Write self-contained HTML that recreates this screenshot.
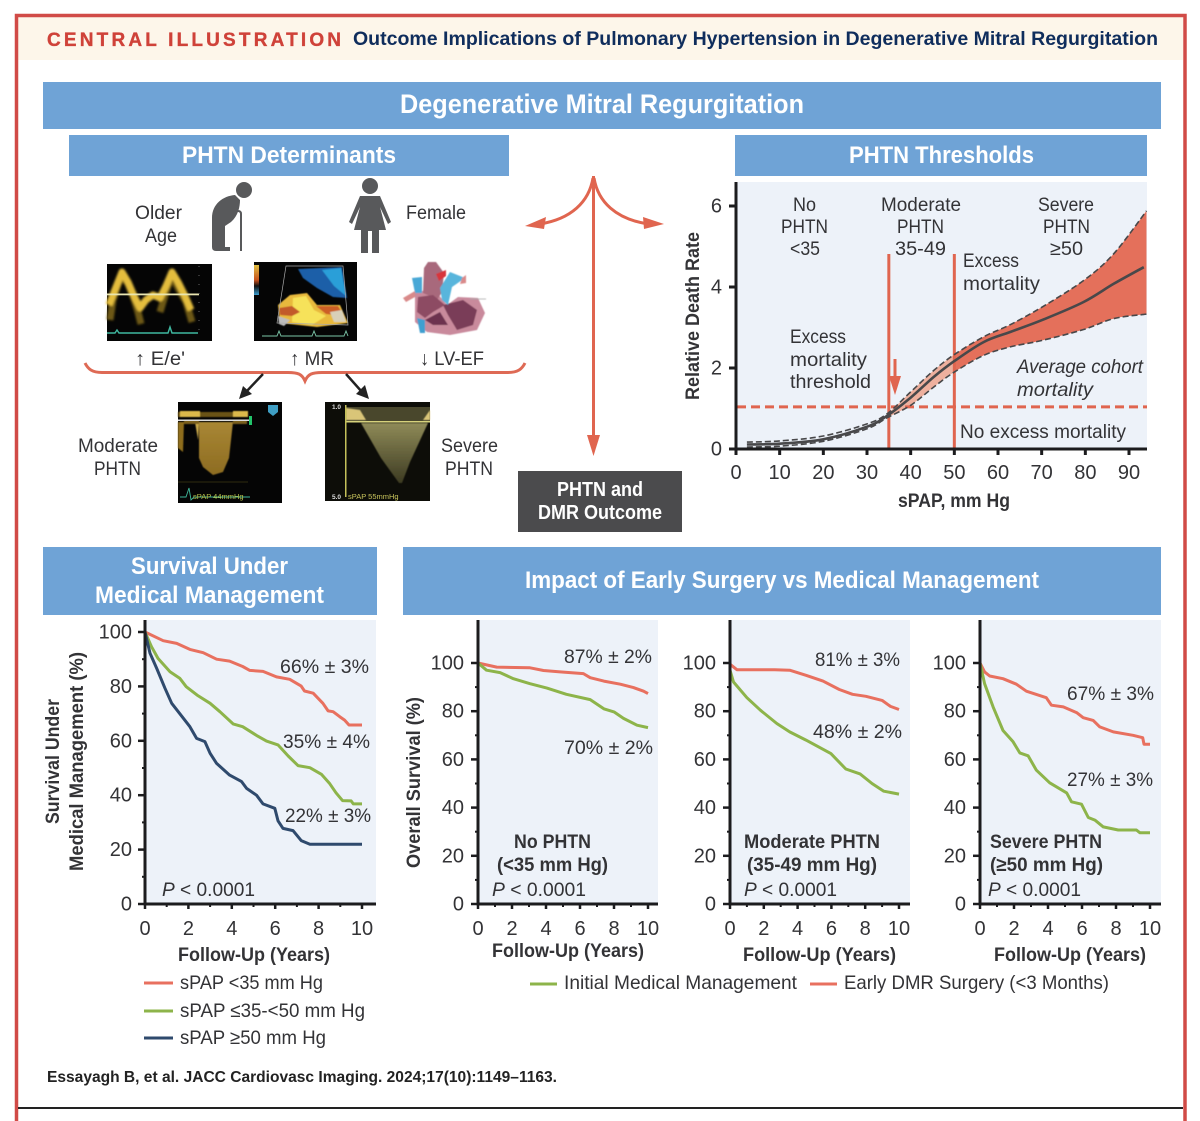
<!DOCTYPE html>
<html lang="en">
<head>
<meta charset="utf-8">
<title>Central Illustration</title>
<style>
html,body{margin:0;padding:0;background:#fff}
svg{display:block}
text{font-family:"Liberation Sans","DejaVu Sans",sans-serif;fill:#333336;font-size:19.5px}
.b{font-weight:700}
.w{fill:#fff;font-weight:700}
.i{font-style:italic}
</style>
</head>
<body>
<svg id="root" xmlns="http://www.w3.org/2000/svg" width="1200" height="1121" viewBox="0 0 1200 1121">
<defs>
<filter id="soft" x="-20%" y="-20%" width="140%" height="140%"><feGaussianBlur stdDeviation="1"/></filter>
<filter id="softer" x="-20%" y="-20%" width="140%" height="140%"><feGaussianBlur stdDeviation="0.6"/></filter>
<linearGradient id="severe-fade" x1="0" y1="0" x2="0" y2="1"><stop offset="0" stop-color="#8f8b58"/><stop offset="1" stop-color="#3d3b22"/></linearGradient>
<linearGradient id="moderate-fade" x1="0" y1="0" x2="0" y2="1"><stop offset="0" stop-color="#a98734"/><stop offset="1" stop-color="#8d6c22"/></linearGradient>
<linearGradient id="colorbar-fade" x1="0" y1="0" x2="0" y2="1"><stop offset="0" stop-color="#e0c040"/><stop offset=".5" stop-color="#c8521e"/><stop offset=".7" stop-color="#111"/><stop offset="1" stop-color="#3a9ed0"/></linearGradient>
</defs>
<rect x="0" y="0" width="1200" height="1121" fill="#fff"/>
<rect x="18" y="16" width="1165" height="44" fill="#fdf6ea"/>
<path d="M16.5 1121V15.5H1185V1121" fill="none" stroke="#d14b47" stroke-width="3.5"/>
<rect x="18" y="1107" width="1165" height="2" fill="#222"/>
<text x="47" y="46" textLength="294" lengthAdjust="spacing" class="b" style="fill:#cf4239;font-size:19px;stroke:#cf4239;stroke-width:.35">CENTRAL ILLUSTRATION</text>
<text x="353" y="45" textLength="805" lengthAdjust="spacingAndGlyphs" class="b" style="fill:#0f2d5c;font-size:19.5px">Outcome Implications of Pulmonary Hypertension in Degenerative Mitral Regurgitation</text>

<rect x="43" y="82" width="1118" height="47" fill="#6fa3d6"/>
<text x="400" y="113" textLength="404" lengthAdjust="spacingAndGlyphs" class="w" style="font-size:27px">Degenerative Mitral Regurgitation</text>
<rect x="69" y="135" width="440" height="41" fill="#6fa3d6"/>
<text x="182" y="163" textLength="214" lengthAdjust="spacingAndGlyphs" class="w" style="font-size:24px">PHTN Determinants</text>
<rect x="735" y="135" width="412" height="41" fill="#6fa3d6"/>
<text x="849" y="163" textLength="185" lengthAdjust="spacingAndGlyphs" class="w" style="font-size:24px">PHTN Thresholds</text>
<rect x="43" y="547" width="334" height="68" fill="#6fa3d6"/>
<text x="131" y="574" textLength="157" lengthAdjust="spacingAndGlyphs" class="w" style="font-size:24px">Survival Under</text>
<text x="95" y="603" textLength="229" lengthAdjust="spacingAndGlyphs" class="w" style="font-size:24px">Medical Management</text>
<rect x="403" y="547" width="758" height="68" fill="#6fa3d6"/>
<text x="525" y="588" textLength="514" lengthAdjust="spacingAndGlyphs" class="w" style="font-size:24px">Impact of Early Surgery vs Medical Management</text>

<!-- Determinants -->
<text x="135" y="219" textLength="47" lengthAdjust="spacingAndGlyphs">Older</text>
<text x="145" y="242" textLength="32" lengthAdjust="spacingAndGlyphs">Age</text>
<text x="406" y="219" textLength="60" lengthAdjust="spacingAndGlyphs">Female</text>
<g fill="#58595b">
<circle cx="244" cy="190" r="8"/>
<path d="M235 195C223 196 212 204 212 218V247Q212 251 216 251H230V247H225V226L231 222C238 216 240 207 240 200Z"/>
<path d="M234 214Q234 211 238 211Q241 211 241 214V251" fill="none" stroke="#58595b" stroke-width="2"/>
</g>
<g fill="#58595b">
<circle cx="370" cy="186" r="8"/>
<path d="M360 196H380L391 222L388 224L380 207L386 230H379V253H372V231H368V253H361V230H354L360 207L352 224L349 222Z"/>
</g>

<g>
<rect x="107" y="264" width="105" height="77" fill="#050505"/>
<g filter="url(#soft)" fill="none" stroke-linejoin="round">
<path d="M110 320L113 300L118 285L122 275L128 284L133 296L138 312L141 324" stroke="#6d5817" stroke-width="7"/>
<path d="M160 312L166 292L172 276L178 288L186 302L192 322" stroke="#6d5817" stroke-width="7"/>
<path d="M109 305L114 292L122 272L128 282L134 296L140 308L146 300L153 295L160 298L166 286L172 272L178 282L185 296L191 310" stroke="#e4bd3c" stroke-width="7"/>
</g>
<rect x="107" y="293.500" width="92" height="1.800" fill="#e9e5b0"/>
<path d="M107 333H115L117 330L119 333H168L170 327L172 333H198" fill="none" stroke="#3fb8a0" stroke-width="1.4"/>
<path d="M199 266V338" stroke="#666" stroke-width="1" stroke-dasharray="1 8"/>
</g>
<g>
<rect x="254" y="262" width="103" height="79" fill="#050505"/>
<rect x="254" y="265" width="5" height="30" fill="url(#colorbar-fade)"/>
<g filter="url(#softer)">
<path d="M298 269L342 267L347 298L333 297L317 288L303 278Z" fill="#1c5ea8"/>
<path d="M322 270L341 268L346 296L334 286Z" fill="#2c9fd8"/>
<path d="M290 295L307 293L317 305L340 305L348 323L317 327L280 323L278 305Z" fill="#e8b93c"/>
<path d="M293 298L306 296L314 310L326 316L312 325L292 322Z" fill="#f6e25a"/>
<path d="M279 308L292 306L300 312L292 316L280 315Z" fill="#c25a2a"/>
<path d="M316 306L338 306L344 316L326 314Z" fill="#cc5f28"/>
<path d="M278 316L290 320L284 326L279 324Z" fill="#bdbdbd"/>
<path d="M330 312L342 310L346 322L334 322Z" fill="#d8d0b8"/>
</g>
<path d="M286 266H343L348 325L277 323Z" fill="none" stroke="#aaa" stroke-width=".7"/>
<path d="M262 336H277L279 331L281 336H312L314 331L316 336H344L346 331L348 336" fill="none" stroke="#7cc6a8" stroke-width=".9"/>
</g>
<g filter="url(#softer)">
<path d="M415 293L433 288L447 305L458 297L478 298L485 313L477 330L450 335L427 332L415 322Z" fill="#c98a9c"/>
<path d="M423 293L424 268L428 262L436 262L444 273L442 292L436 302L430 296Z" fill="#a8697c"/>
<path d="M443 305L463 300L477 310L473 325L457 330L448 315Z" fill="#7a3d58"/>
<path d="M418 297L433 295L445 305L433 312L425 318L417 312Z" fill="#8d4c64"/>
<path d="M425 320L440 312L448 325L433 325Z" fill="#6d3350"/>
<path d="M412 278L422 277L422 293L415 293Z" fill="#4aa8d6"/>
<path d="M417 318L425 320L425 333L420 333Z" fill="#3f9fd0"/>
<path d="M440 288L450 272L465 278L452 287L448 305L442 300Z" fill="#58b5dc"/>
<path d="M436 274L446 270L446 276L439 281Z" fill="#d8343a"/>
<path d="M403 298L415 291L415 297L406 302Z" fill="#d98a8a"/>
<path d="M462 278L466 275L466 283L460 284Z" fill="#d98a8a"/>
<path d="M470 299H486" stroke="#aaa" stroke-width=".8"/>
</g>
<text x="135" y="365" textLength="50" lengthAdjust="spacingAndGlyphs">↑ E/e'</text>
<text x="290" y="365" textLength="44" lengthAdjust="spacingAndGlyphs">↑ MR</text>
<text x="420" y="365" textLength="64" lengthAdjust="spacingAndGlyphs">↓ LV-EF</text>
<path d="M85 363C88 369 92 372.500 102 372.500H288C298 372.500 302 374 305 381C308 374 312 372.500 322 372.500H508C518 372.500 522 369 525 363" fill="none" stroke="#de6a55" stroke-width="3"/>
<g><path d="M263 374L246 392" stroke="#222" stroke-width="2.5"/><path d="M239 399L243 386L252 394Z" fill="#222"/></g>
<g><path d="M346 374L362 392" stroke="#222" stroke-width="2.5"/><path d="M369 399L356 394L365 385Z" fill="#222"/></g>
<g>
<rect x="178" y="402" width="104" height="101" fill="#050505"/>
<g filter="url(#softer)">
<rect x="178" y="412" width="70" height="5" fill="#6a5318"/>
<rect x="180" y="411" width="20" height="6" fill="#dcb94c"/>
<rect x="233" y="411" width="15" height="6" fill="#dcb94c"/>
<path d="M178 422H184L183 452L178 448Z" fill="#8e6d1f"/>
<path d="M195 422H199L198 440Z" fill="#c9a84a"/>
<path d="M199 422H233L229 458L223 472L213 475L203 467L199 458Z" fill="url(#moderate-fade)"/>
<path d="M184 422H199M233 422H247" stroke="#7a5e1b" stroke-width="4"/>
</g>
<rect x="178" y="419.500" width="71" height="1.500" fill="#ddd"/>
<rect x="249" y="416" width="3" height="9" fill="#22c46a"/>
<path d="M268 405H278V412L273 416L268 412Z" fill="#3f9ec4"/>
<path d="M178 482H248" stroke="#2f2a10" stroke-width="1"/>
<path d="M180 497H186L189 488L191 500L194 497H250" fill="none" stroke="#3fb89a" stroke-width=".9"/>
<text x="193" y="499" style="fill:#b8c24a;font-size:7.500px">sPAP 44mmHg</text>
</g>
<g>
<rect x="325" y="402" width="105" height="99" fill="#0d0d08"/>
<rect x="346" y="407" width="84" height="15" fill="#49472c"/>
<g filter="url(#softer)">
<path d="M346 408L360 410L366 420H346Z" fill="#d9c578"/>
<path d="M423 420L430 410V420Z" fill="#d9c578"/>
<path d="M361 423H428L410 462L402 483H399L381 458Z" fill="url(#severe-fade)"/>
</g>
<rect x="346" y="421" width="84" height="1.500" fill="#d6d27c"/>
<rect x="345" y="405" width="1.500" height="92" fill="#c4c05a"/>
<text x="332" y="409" style="fill:#ddd;font-size:6.500px;font-weight:700">1.0</text>
<text x="332" y="499" style="fill:#ddd;font-size:6.500px;font-weight:700">5.0</text>
<text x="348" y="499" style="fill:#c8c45c;font-size:7.500px">sPAP 55mmHg</text>
</g>
<text x="78" y="452" textLength="80" lengthAdjust="spacingAndGlyphs">Moderate</text>
<text x="94" y="475" textLength="47" lengthAdjust="spacingAndGlyphs">PHTN</text>
<text x="441" y="452" textLength="57" lengthAdjust="spacingAndGlyphs">Severe</text>
<text x="445" y="475" textLength="48" lengthAdjust="spacingAndGlyphs">PHTN</text>

<!-- Central arrows -->
<g>
<path d="M593.500 176V444" stroke="#e0654f" stroke-width="3" fill="none"/>
<path d="M593.500 456L587 435H600Z" fill="#e0654f"/>
<path d="M593 178C589 202 571 219 540 224" stroke="#e0654f" stroke-width="3" fill="none"/>
<path d="M525 226L546 217L544 229Z" fill="#e0654f"/>
<path d="M594 178C598 202 616 219 648 224" stroke="#e0654f" stroke-width="3" fill="none"/>
<path d="M664 224L643 217L644 229Z" fill="#e0654f"/>
</g>
<rect x="518" y="471" width="164" height="61" fill="#4b4b4d"/>
<text x="557" y="496" textLength="86" lengthAdjust="spacingAndGlyphs" class="w" style="font-size:20px">PHTN and</text>
<text x="538" y="519" textLength="124" lengthAdjust="spacingAndGlyphs" class="w" style="font-size:20px">DMR Outcome</text>

<!-- Panels -->
<rect x="737" y="182" width="410" height="267" fill="#edf2f9"/>
<rect x="146" y="620" width="230" height="284" fill="#edf2f9"/>
<rect x="479" y="620" width="179" height="284" fill="#edf2f9"/>
<rect x="731" y="620" width="179" height="284" fill="#edf2f9"/>
<rect x="981" y="620" width="180" height="284" fill="#edf2f9"/>

<g id="marks"></g>

<!-- Threshold chart text -->
<text x="793" y="211" textLength="23" lengthAdjust="spacingAndGlyphs">No</text>
<text x="781" y="233" textLength="47" lengthAdjust="spacingAndGlyphs">PHTN</text>
<text x="790" y="255" textLength="30" lengthAdjust="spacingAndGlyphs">&lt;35</text>
<text x="881" y="211" textLength="80" lengthAdjust="spacingAndGlyphs">Moderate</text>
<text x="897" y="233" textLength="47" lengthAdjust="spacingAndGlyphs">PHTN</text>
<text x="895" y="255" textLength="51" lengthAdjust="spacingAndGlyphs">35-49</text>
<text x="1038" y="211" textLength="56" lengthAdjust="spacingAndGlyphs">Severe</text>
<text x="1043" y="233" textLength="47" lengthAdjust="spacingAndGlyphs">PHTN</text>
<text x="1050" y="255" textLength="33" lengthAdjust="spacingAndGlyphs">≥50</text>
<text x="963" y="267" textLength="56" lengthAdjust="spacingAndGlyphs">Excess</text>
<text x="963" y="290" textLength="77" lengthAdjust="spacingAndGlyphs">mortality</text>
<text x="790" y="343" textLength="56" lengthAdjust="spacingAndGlyphs">Excess</text>
<text x="790" y="366" textLength="77" lengthAdjust="spacingAndGlyphs">mortality</text>
<text x="790" y="388" textLength="81" lengthAdjust="spacingAndGlyphs">threshold</text>
<text x="1017" y="373" textLength="126" lengthAdjust="spacingAndGlyphs" class="i">Average cohort</text>
<text x="1017" y="396" textLength="76" lengthAdjust="spacingAndGlyphs" class="i">mortality</text>
<text x="960" y="438" textLength="166" lengthAdjust="spacingAndGlyphs">No excess mortality</text>
<text transform="translate(699,400) rotate(-90)" textLength="168" lengthAdjust="spacingAndGlyphs" class="b" style="font-size:19px">Relative Death Rate</text>
<text x="898" y="507" textLength="112" lengthAdjust="spacingAndGlyphs" class="b">sPAP, mm Hg</text>

<!-- Survival chart text -->
<text x="280" y="673" textLength="89" lengthAdjust="spacingAndGlyphs">66% ± 3%</text>
<text x="283" y="748" textLength="87" lengthAdjust="spacingAndGlyphs">35% ± 4%</text>
<text x="285" y="822" textLength="86" lengthAdjust="spacingAndGlyphs">22% ± 3%</text>
<text x="162" y="896" textLength="93" lengthAdjust="spacingAndGlyphs" ><tspan font-style="italic">P</tspan> &lt; 0.0001</text>
<text x="178" y="961" textLength="152" lengthAdjust="spacingAndGlyphs" class="b">Follow-Up (Years)</text>
<text transform="translate(59,824) rotate(-90)" textLength="125" lengthAdjust="spacingAndGlyphs" class="b" style="font-size:19px">Survival Under</text>
<text transform="translate(83,871) rotate(-90)" textLength="219" lengthAdjust="spacingAndGlyphs" class="b" style="font-size:19px">Medical Management (%)</text>
<rect x="144" y="981.500" width="29" height="3" fill="#e8705f"/>
<text x="180" y="989" textLength="143" lengthAdjust="spacingAndGlyphs">sPAP &lt;35 mm Hg</text>
<rect x="144" y="1009.500" width="29" height="3" fill="#8db44a"/>
<text x="180" y="1017" textLength="185" lengthAdjust="spacingAndGlyphs">sPAP ≤35-&lt;50 mm Hg</text>
<rect x="144" y="1036.500" width="29" height="3" fill="#2f4a6d"/>
<text x="180" y="1044" textLength="146" lengthAdjust="spacingAndGlyphs">sPAP ≥50 mm Hg</text>

<!-- Impact charts text -->
<text x="564" y="663" textLength="88" lengthAdjust="spacingAndGlyphs">87% ± 2%</text>
<text x="564" y="754" textLength="89" lengthAdjust="spacingAndGlyphs">70% ± 2%</text>
<text x="514" y="848" textLength="77" lengthAdjust="spacingAndGlyphs" class="b">No PHTN</text>
<text x="497" y="871" textLength="111" lengthAdjust="spacingAndGlyphs" class="b">(&lt;35 mm Hg)</text>
<text x="492" y="896" textLength="94" lengthAdjust="spacingAndGlyphs"><tspan font-style="italic">P</tspan> &lt; 0.0001</text>
<text x="492" y="957" textLength="152" lengthAdjust="spacingAndGlyphs" class="b">Follow-Up (Years)</text>
<text transform="translate(420,868) rotate(-90)" textLength="171" lengthAdjust="spacingAndGlyphs" class="b" style="font-size:19px">Overall Survival (%)</text>

<text x="815" y="666" textLength="85" lengthAdjust="spacingAndGlyphs">81% ± 3%</text>
<text x="813" y="738" textLength="89" lengthAdjust="spacingAndGlyphs">48% ± 2%</text>
<text x="744" y="848" textLength="136" lengthAdjust="spacingAndGlyphs" class="b">Moderate PHTN</text>
<text x="747" y="871" textLength="130" lengthAdjust="spacingAndGlyphs" class="b">(35-49 mm Hg)</text>
<text x="744" y="896" textLength="93" lengthAdjust="spacingAndGlyphs"><tspan font-style="italic">P</tspan> &lt; 0.0001</text>
<text x="743" y="961" textLength="153" lengthAdjust="spacingAndGlyphs" class="b">Follow-Up (Years)</text>

<text x="1067" y="700" textLength="87" lengthAdjust="spacingAndGlyphs">67% ± 3%</text>
<text x="1067" y="786" textLength="86" lengthAdjust="spacingAndGlyphs">27% ± 3%</text>
<text x="990" y="848" textLength="112" lengthAdjust="spacingAndGlyphs" class="b">Severe PHTN</text>
<text x="990" y="871" textLength="113" lengthAdjust="spacingAndGlyphs" class="b">(≥50 mm Hg)</text>
<text x="988" y="896" textLength="93" lengthAdjust="spacingAndGlyphs"><tspan font-style="italic">P</tspan> &lt; 0.0001</text>
<text x="994" y="961" textLength="152" lengthAdjust="spacingAndGlyphs" class="b">Follow-Up (Years)</text>

<rect x="530" y="982.500" width="27" height="3" fill="#8db44a"/>
<text x="564" y="989" textLength="233" lengthAdjust="spacingAndGlyphs">Initial Medical Management</text>
<rect x="810" y="982.500" width="27" height="3" fill="#e8705f"/>
<text x="844" y="989" textLength="265" lengthAdjust="spacingAndGlyphs">Early DMR Surgery (&lt;3 Months)</text>

<text x="47" y="1082" textLength="510" lengthAdjust="spacingAndGlyphs" class="b" style="font-size:16px;fill:#222">Essayagh B, et al. JACC Cardiovasc Imaging. 2024;17(10):1149–1163.</text>
</svg>

<script>
// ---------- Threshold chart data ----------
const spapValues = [2.5, 10, 20, 30, 34.6, 40, 45.3, 50, 56.7, 62.8, 70, 79.6, 86.5, 94];
const spapMeanValues = [2.5, 10, 20, 30, 34.6, 40, 45.3, 50, 56.7, 62.8, 70, 79.6, 86.5, 93.4];
const deathRateMean = [0.11, 0.13, 0.24, 0.55, 0.82, 1.27, 1.78, 2.17, 2.64, 2.89, 3.18, 3.63, 4.08, 4.49];
const deathRateUpper = [0.17, 0.2, 0.32, 0.62, 0.87, 1.41, 1.94, 2.33, 2.77, 3.07, 3.5, 4.16, 4.82, 5.88];
const deathRateLower = [0.05, 0.07, 0.19, 0.5, 0.77, 1.08, 1.53, 1.9, 2.31, 2.52, 2.68, 2.95, 3.22, 3.33];
const thresholdXTicks = [0, 10, 20, 30, 40, 50, 60, 70, 80, 90];
const thresholdYTicks = [0, 2, 4, 6];
const thresholdCutoffs = [35, 50];
const averageMortality = [1.04];

// ---------- Survival tick data ----------
const yearTicks = [0, 2, 4, 6, 8, 10];
const yearMinorTicks = [1, 3, 5, 7, 9];
const survivalTicks = [0, 20, 40, 60, 80, 100];
const survivalMinorTicks = [10, 30, 50, 70, 90];

// ---------- Survival under medical management ----------
const lowTimes = [0, 0.84, 1.46, 2.07, 2.68, 3.3, 3.9, 4.5, 4.83, 5.44, 6.06, 6.67, 7.2, 7.35, 7.75, 8.2, 8.44, 8.67, 8.97, 9.2, 9.4, 10];
const lowValues = [100, 96.8, 95.8, 93.6, 92.4, 90, 89.3, 87.3, 85.9, 85.5, 83.5, 82.6, 80.1, 78.3, 77.5, 73.8, 71, 70.7, 68.9, 67.6, 65.8, 65.8];
const midTimes = [0, 0.3, 0.6, 1.15, 1.6, 1.9, 2.4, 3, 3.45, 4.06, 4.5, 5.14, 5.6, 6.13, 6.6, 7.05, 7.6, 8.13, 8.5, 8.8, 9.1, 9.5, 9.6, 10];
const midValues = [100, 94.6, 90.3, 85.4, 83, 79.9, 76.8, 73.8, 70.7, 66.2, 65.2, 62, 59.9, 58.5, 54.4, 50.9, 50.1, 47.7, 44.4, 40.9, 38, 37.9, 36.8, 36.8];
const highTimes = [0, 0.23, 0.54, 0.92, 1.23, 1.6, 2.07, 2.38, 2.76, 3, 3.3, 3.9, 4.45, 4.68, 5.14, 5.44, 5.98, 6.13, 6.36, 6.82, 7.2, 7.6, 10];
const highValues = [100, 92.2, 86.6, 79.3, 73.8, 70, 65.2, 60.9, 59.7, 55.4, 51.7, 47.4, 45, 42.5, 40, 36.8, 35.2, 30.6, 27.8, 27, 23.3, 22, 22];

// ---------- No PHTN ----------
const noPhtnSurgeryTimes = [0, 1.1, 3.06, 3.85, 4.83, 6.2, 6.6, 7.4, 8.37, 9.15, 9.74, 10];
const noPhtnSurgeryValues = [100, 98.3, 98, 96.9, 96.3, 95.6, 93.9, 92.5, 91.2, 89.8, 88.3, 87.3];
const noPhtnMedicalTimes = [0, 0.5, 1.3, 2.08, 3.06, 4.05, 5.2, 6.6, 7.4, 8, 8.56, 9.35, 10];
const noPhtnMedicalValues = [100, 97, 96, 93.5, 91.4, 89.6, 87, 84.8, 81, 79.7, 77, 74.2, 73.2];

// ---------- Moderate PHTN ----------
const moderateSurgeryTimes = [0, 0.41, 2.65, 3.53, 4.5, 5.5, 6.47, 7.25, 8.04, 9, 9.5, 10];
const moderateSurgeryValues = [99.5, 97.2, 97.2, 97, 94.9, 92.5, 89, 87, 86.2, 84.5, 82, 80.7];
const moderateMedicalTimes = [0, 0.21, 1, 1.8, 2.77, 3.53, 4.5, 5.97, 6.85, 7.7, 8.4, 9.1, 10];
const moderateMedicalValues = [97, 92.1, 85.6, 80.4, 74.9, 71.4, 68, 62.4, 56, 54, 50, 46.8, 45.6];

// ---------- Severe PHTN ----------
const severeSurgeryTimes = [0, 0.27, 0.57, 1.35, 2.14, 2.73, 3.9, 4.2, 4.9, 5.68, 6.07, 6.66, 7.05, 7.84, 9, 9.57, 9.65, 10];
const severeSurgeryValues = [100, 96.3, 94.6, 93.5, 91.2, 88.3, 85.6, 82.5, 81.8, 79.4, 77.3, 76.2, 73.5, 71.4, 70, 69, 66.3, 66.3];
const severeMedicalTimes = [0, 0.27, 0.77, 1.35, 1.95, 2.34, 2.83, 3.32, 4.1, 5.1, 5.38, 5.97, 6.37, 6.76, 7.25, 8.13, 9.2, 9.4, 10];
const severeMedicalValues = [100, 91.4, 81.8, 72, 67.3, 62.7, 61.5, 55.5, 50.3, 46.1, 42.4, 41.4, 35.9, 34.8, 32, 30.7, 30.7, 29.6, 29.6];

const SVG_NS = 'http://www.w3.org/2000/svg';
const marks = document.getElementById('marks');
const RED = '#e8705f';
const GREEN = '#8db44a';
const NAVY = '#2f4a6d';
const AXIS = '#1c1c1e';

function linear(d0, d1, r0, r1) {
  return function (v) { return r0 + (v - d0) * (r1 - r0) / (d1 - d0); };
}
function linePath(xs, ys, sx, sy) {
  return xs.map(function (x, i) { return (i ? 'L' : 'M') + sx(x).toFixed(1) + ' ' + sy(ys[i]).toFixed(1); }).join('');
}
// Catmull-Rom smoothing through the read values (threshold spline only)
function smoothPath(xs, ys, sx, sy, cont) {
  const p = xs.map(function (x, i) { return [sx(x), sy(ys[i])]; });
  let d = (cont ? 'L' : 'M') + p[0][0].toFixed(1) + ' ' + p[0][1].toFixed(1);
  for (let i = 0; i < p.length - 1; i++) {
    const a = p[Math.max(i - 1, 0)], b = p[i], c = p[i + 1], e = p[Math.min(i + 2, p.length - 1)];
    d += 'C' + (b[0] + (c[0] - a[0]) / 6).toFixed(1) + ' ' + (b[1] + (c[1] - a[1]) / 6).toFixed(1) + ' ' +
      (c[0] - (e[0] - b[0]) / 6).toFixed(1) + ' ' + (c[1] - (e[1] - b[1]) / 6).toFixed(1) + ' ' +
      c[0].toFixed(1) + ' ' + c[1].toFixed(1);
  }
  return d;
}
function addLine(x1, y1, x2, y2, width, label) {
  const el = document.createElementNS(SVG_NS, 'line');
  
  
  el.setAttribute('x1', x1);
  el.setAttribute('y1', y1);
  el.setAttribute('x2', x2);
  el.setAttribute('y2', y2);
  el.setAttribute('stroke', AXIS);
  el.setAttribute('stroke-width', width);
  marks.appendChild(el);
}
function addLabel(x, y, anchor, str, label) {
  const el = document.createElementNS(SVG_NS, 'text');
  
  
  el.setAttribute('x', x);
  el.setAttribute('y', y);
  el.setAttribute('text-anchor', anchor);
  el.style.fontSize = '20px';
  el.textContent = str;
  marks.appendChild(el);
}
function addSeries(d, color, width, label, dash) {
  const el = document.createElementNS(SVG_NS, 'path');
  
  
  el.setAttribute('d', d);
  el.setAttribute('fill', 'none');
  el.setAttribute('stroke', color);
  el.setAttribute('stroke-width', width);
  el.setAttribute('stroke-linejoin', 'round');
  if (dash) el.setAttribute('stroke-dasharray', dash);
  marks.appendChild(el);
}
function drawAxes(sx, sy, xRight, yTop, labelRight, labelBase, name) {
  const x0 = sx(0), y0 = sy(0);
  yearTicks.forEach(function (t) {
    addLine(sx(t), y0, sx(t), y0 + 5, 2.5, name + '-x-tick');
    addLabel(sx(t), labelBase, 'middle', String(t), name + '-x-tick-label');
  });
  yearMinorTicks.forEach(function (t) {
    addLine(sx(t), y0, sx(t), y0 + 3, 2, name + '-x-minor-tick');
  });
  survivalTicks.forEach(function (v) {
    addLine(x0 - 7, sy(v), x0, sy(v), 2.5, name + '-y-tick');
    addLabel(labelRight, sy(v) + 6.5, 'end', String(v), name + '-y-tick-label');
  });
  survivalMinorTicks.forEach(function (v) {
    addLine(x0 - 3, sy(v), x0, sy(v), 2, name + '-y-minor-tick');
  });
  addLine(x0, yTop, x0, y0 + 1.5, 3, name + '-y-axis');
  addLine(x0, y0, xRight, y0, 3, name + '-x-axis');
}

// Thresholds chart
(function () {
  const sx = linear(0, 90, 736, 1129);
  const sy = linear(0, 6, 449, 206);
  const upper = smoothPath(spapValues, deathRateUpper, sx, sy, false);
  const lowerRev = smoothPath(spapValues.slice().reverse(), deathRateLower.slice().reverse(), sx, sy, true);
  const defs = document.createElementNS(SVG_NS, 'defs');
  const clipA = document.createElementNS(SVG_NS, 'clipPath');
  clipA.setAttribute('id', 'band-moderate');
  const rectA = document.createElementNS(SVG_NS, 'rect');
  rectA.setAttribute('x', sx(thresholdCutoffs[0]));
  rectA.setAttribute('y', 182);
  rectA.setAttribute('width', sx(thresholdCutoffs[1]) - sx(thresholdCutoffs[0]));
  rectA.setAttribute('height', 267);
  clipA.appendChild(rectA);
  const clipB = document.createElementNS(SVG_NS, 'clipPath');
  clipB.setAttribute('id', 'band-severe');
  const rectB = document.createElementNS(SVG_NS, 'rect');
  rectB.setAttribute('x', sx(thresholdCutoffs[1]));
  rectB.setAttribute('y', 182);
  rectB.setAttribute('width', 1147 - sx(thresholdCutoffs[1]));
  rectB.setAttribute('height', 267);
  clipB.appendChild(rectB);
  defs.appendChild(clipA);
  defs.appendChild(clipB);
  marks.appendChild(defs);

  const bandA = document.createElementNS(SVG_NS, 'path');
  
  
  bandA.setAttribute('d', upper + lowerRev + 'Z');
  bandA.setAttribute('fill', '#eeb09e');
  bandA.setAttribute('clip-path', 'url(#band-moderate)');
  marks.appendChild(bandA);
  const bandB = document.createElementNS(SVG_NS, 'path');
  
  
  bandB.setAttribute('d', upper + lowerRev + 'Z');
  bandB.setAttribute('fill', '#e4705b');
  bandB.setAttribute('clip-path', 'url(#band-severe)');
  marks.appendChild(bandB);

  addSeries('M737 ' + sy(averageMortality[0]) + 'H1147', '#e0654f', 3, 'average-mortality-line', '9 5');
  thresholdCutoffs.forEach(function (c) {
    addSeries('M' + sx(c) + ' 254V449', '#e0654f', 3, 'threshold-line-' + c);
  });
  addSeries(upper, '#48484a', 1.6, 'death-rate-upper-ci', '6 3');
  addSeries(smoothPath(spapValues, deathRateLower, sx, sy, false), '#48484a', 1.6, 'death-rate-lower-ci', '6 3');
  addSeries(smoothPath(spapMeanValues, deathRateMean, sx, sy, false), '#48484a', 2.6, 'death-rate-mean');

  addSeries('M895 359V380', '#e0654f', 3, 'threshold-arrow-shaft');
  const head = document.createElementNS(SVG_NS, 'path');
  
  
  head.setAttribute('d', 'M895 395L889 376H901Z');
  head.setAttribute('fill', '#e0654f');
  marks.appendChild(head);

  thresholdXTicks.forEach(function (t) {
    addLine(sx(t), 449, sx(t), 455, 3, 'thresholds-x-tick');
    addLabel(sx(t), 479, 'middle', String(t), 'thresholds-x-tick-label');
  });
  thresholdYTicks.forEach(function (v) {
    addLine(729, sy(v), 736, sy(v), 3, 'thresholds-y-tick');
    addLabel(722, sy(v) + 6.5, 'end', String(v), 'thresholds-y-tick-label');
  });
  addLine(736, 182, 736, 451, 3, 'thresholds-y-axis');
  addLine(736, 449, 1147, 449, 3, 'thresholds-x-axis');
})();

// Survival under medical management
(function () {
  const sx = linear(0, 10, 145, 362);
  const sy = linear(0, 100, 904, 632);
  addSeries(linePath(lowTimes, lowValues, sx, sy), RED, 3, 'survival-curve-low');
  addSeries(linePath(midTimes, midValues, sx, sy), GREEN, 3, 'survival-curve-mid');
  addSeries(linePath(highTimes, highValues, sx, sy), NAVY, 3, 'survival-curve-high');
  drawAxes(sx, sy, 376, 620, 132, 935, 'survival');
})();

// No PHTN
(function () {
  const sx = linear(0, 10, 478, 648);
  const sy = linear(0, 100, 904, 663);
  addSeries(linePath(noPhtnSurgeryTimes, noPhtnSurgeryValues, sx, sy), RED, 3, 'no-phtn-surgery-curve');
  addSeries(linePath(noPhtnMedicalTimes, noPhtnMedicalValues, sx, sy), GREEN, 3, 'no-phtn-medical-curve');
  drawAxes(sx, sy, 658, 620, 464, 935, 'no-phtn');
})();

// Moderate PHTN
(function () {
  const sx = linear(0, 10, 730, 899);
  const sy = linear(0, 100, 904, 663);
  addSeries(linePath(moderateSurgeryTimes, moderateSurgeryValues, sx, sy), RED, 3, 'moderate-surgery-curve');
  addSeries(linePath(moderateMedicalTimes, moderateMedicalValues, sx, sy), GREEN, 3, 'moderate-medical-curve');
  drawAxes(sx, sy, 910, 620, 716, 935, 'moderate');
})();

// Severe PHTN
(function () {
  const sx = linear(0, 10, 980, 1150);
  const sy = linear(0, 100, 904, 663);
  addSeries(linePath(severeSurgeryTimes, severeSurgeryValues, sx, sy), RED, 3, 'severe-surgery-curve');
  addSeries(linePath(severeMedicalTimes, severeMedicalValues, sx, sy), GREEN, 3, 'severe-medical-curve');
  drawAxes(sx, sy, 1161, 620, 966, 935, 'severe');
})();
</script>
</body>
</html>
